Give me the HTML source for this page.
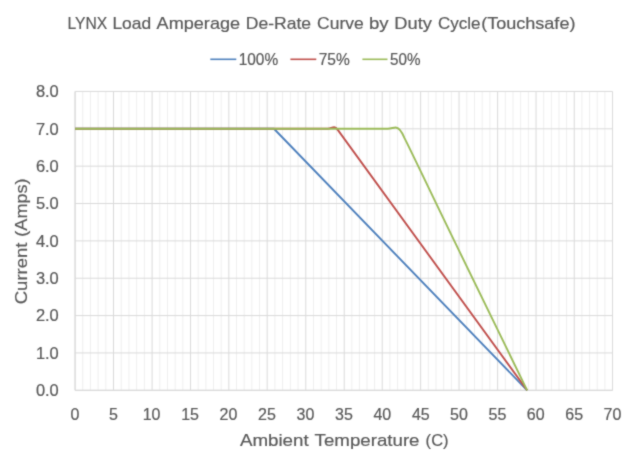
<!DOCTYPE html>
<html><head><meta charset="utf-8"><title>LYNX Load Amperage De-Rate Curve</title>
<style>html,body{margin:0;padding:0;background:#fff;}svg{display:block;will-change:transform;}text{font-family:"Liberation Sans",sans-serif;fill:#595959;stroke:#595959;stroke-width:0.2px;}</style></head><body>
<svg width="632" height="458" viewBox="0 0 632 458">
<defs><filter id="soft" x="0" y="0" width="632" height="458" filterUnits="userSpaceOnUse" color-interpolation-filters="sRGB"><feConvolveMatrix order="3" kernelMatrix="0.03 0.09 0.03 0.09 0.52 0.09 0.03 0.09 0.03" divisor="1" edgeMode="duplicate" preserveAlpha="true"/></filter></defs>
<g filter="url(#soft)">
<rect width="632" height="458" fill="#ffffff"/>
<path d="M82.74 91.45V390.30M90.43 91.45V390.30M98.12 91.45V390.30M105.81 91.45V390.30M121.22 91.45V390.30M128.94 91.45V390.30M136.65 91.45V390.30M144.37 91.45V390.30M159.78 91.45V390.30M167.47 91.45V390.30M175.16 91.45V390.30M182.85 91.45V390.30M198.20 91.45V390.30M205.86 91.45V390.30M213.52 91.45V390.30M221.18 91.45V390.30M236.50 91.45V390.30M244.17 91.45V390.30M251.84 91.45V390.30M259.51 91.45V390.30M274.90 91.45V390.30M282.62 91.45V390.30M290.34 91.45V390.30M298.06 91.45V390.30M313.47 91.45V390.30M321.16 91.45V390.30M328.85 91.45V390.30M336.54 91.45V390.30M351.82 91.45V390.30M359.42 91.45V390.30M367.02 91.45V390.30M374.62 91.45V390.30M389.90 91.45V390.30M397.58 91.45V390.30M405.26 91.45V390.30M412.94 91.45V390.30M428.31 91.45V390.30M436.00 91.45V390.30M443.69 91.45V390.30M451.38 91.45V390.30M466.77 91.45V390.30M474.48 91.45V390.30M482.19 91.45V390.30M489.90 91.45V390.30M505.30 91.45V390.30M512.99 91.45V390.30M520.68 91.45V390.30M528.37 91.45V390.30M543.70 91.45V390.30M551.34 91.45V390.30M558.97 91.45V390.30M566.61 91.45V390.30M581.91 91.45V390.30M589.57 91.45V390.30M597.23 91.45V390.30M604.89 91.45V390.30" stroke="#efefef" stroke-width="1" fill="none"/>
<path d="M75.05 91.45V390.30M113.50 91.45V390.30M152.09 91.45V390.30M190.54 91.45V390.30M228.84 91.45V390.30M267.18 91.45V390.30M305.78 91.45V390.30M344.23 91.45V390.30M382.22 91.45V390.30M420.62 91.45V390.30M459.06 91.45V390.30M497.61 91.45V390.30M536.06 91.45V390.30M574.25 91.45V390.30M612.55 91.45V390.30M75.10 390.30H612.60M75.10 352.94H612.60M75.10 315.59H612.60M75.10 278.23H612.60M75.10 240.88H612.60M75.10 203.52H612.60M75.10 166.16H612.60M75.10 128.81H612.60M75.10 91.45H612.60" stroke="#dadada" stroke-width="1" fill="none"/>
<path d="M75.10 91.45V390.30M75.10 390.30H612.60" stroke="#d9d9d9" stroke-width="1" fill="none"/>
<path d="M75.10 128.76L273.98 128.76L527.14 390.30" stroke="#4f81bd" stroke-width="1.9" fill="none" stroke-linejoin="round" stroke-linecap="butt"/>
<path d="M75.10 128.76L327.73 128.76C330.80 128.76 331.56 127.26 334.25 127.26C336.17 127.26 336.94 128.76 338.86 131.37L527.14 390.30" stroke="#c0504d" stroke-width="1.9" fill="none" stroke-linejoin="round" stroke-linecap="butt"/>
<path d="M75.10 128.76L387.62 128.76C391.46 128.76 392.99 127.45 395.68 127.45C399.14 127.45 401.44 130.62 404.51 138.10C412.19 153.04 428.70 188.54 459.18 250.93L527.14 390.30" stroke="#9bbb59" stroke-width="1.9" fill="none" stroke-linejoin="round" stroke-linecap="butt"/>
<path d="M210.3 59.3H236.3" stroke="#4f81bd" stroke-width="1.6"/>
<path d="M290.4 59.3H316.3" stroke="#c0504d" stroke-width="1.6"/>
<path d="M362.4 59.3H387.5" stroke="#9bbb59" stroke-width="1.6"/>
<g>
<text transform="translate(67.47 28.50) scale(0.9469 1)" font-size="16.6">LYNX</text>
<text transform="translate(112.44 28.50) scale(1.0490 1)" font-size="16.6">Load</text>
<text transform="translate(156.60 28.50) scale(1.0907 1)" font-size="16.6">Amperage</text>
<text transform="translate(245.73 28.50) scale(1.0578 1)" font-size="16.6">De-Rate</text>
<text transform="translate(317.08 28.50) scale(1.0530 1)" font-size="16.6">Curve</text>
<text transform="translate(368.94 28.50) scale(1.1216 1)" font-size="16.6">by</text>
<text transform="translate(394.37 28.50) scale(1.1025 1)" font-size="16.6">Duty</text>
<text transform="translate(438.00 28.50) scale(1.0260 1)" font-size="16.6">Cycle</text>
<text transform="translate(481.15 28.50) scale(1.0882 1)" font-size="16.6">(Touchsafe)</text>
<text transform="translate(238.63 64.80) scale(0.9844 1)" font-size="15.7">100%</text>
<text transform="translate(318.67 64.80) scale(0.9894 1)" font-size="15.7">75%</text>
<text transform="translate(389.92 64.80) scale(0.9716 1)" font-size="15.7">50%</text>
<text transform="translate(239.90 446.30) scale(1.0909 1)" font-size="17.2">Ambient</text>
<text transform="translate(314.61 446.30) scale(1.0869 1)" font-size="17.2">Temperature</text>
<text transform="translate(425.62 446.30) scale(0.9648 1)" font-size="17.2">(C)</text>
<text transform="translate(27.10 304.27) rotate(-90) scale(1.0776 1)" font-size="17.2">Current</text>
<text transform="translate(27.10 236.64) rotate(-90) scale(1.0479 1)" font-size="17.2">(Amps)</text>
<text transform="translate(70.60 419.90) scale(1.02 1)" font-size="15.7">0</text>
<text transform="translate(109.11 419.90) scale(1.02 1)" font-size="15.7">5</text>
<text transform="translate(142.68 419.90) scale(1.02 1)" font-size="15.7">10</text>
<text transform="translate(181.20 419.90) scale(1.02 1)" font-size="15.7">15</text>
<text transform="translate(219.59 419.90) scale(1.02 1)" font-size="15.7">20</text>
<text transform="translate(258.11 419.90) scale(1.02 1)" font-size="15.7">25</text>
<text transform="translate(296.50 419.90) scale(1.02 1)" font-size="15.7">30</text>
<text transform="translate(335.02 419.90) scale(1.02 1)" font-size="15.7">35</text>
<text transform="translate(373.41 419.90) scale(1.02 1)" font-size="15.7">40</text>
<text transform="translate(411.93 419.90) scale(1.02 1)" font-size="15.7">45</text>
<text transform="translate(450.07 419.90) scale(1.02 1)" font-size="15.7">50</text>
<text transform="translate(488.59 419.90) scale(1.02 1)" font-size="15.7">55</text>
<text transform="translate(526.73 419.90) scale(1.02 1)" font-size="15.7">60</text>
<text transform="translate(565.25 419.90) scale(1.02 1)" font-size="15.7">65</text>
<text transform="translate(603.52 419.90) scale(1.02 1)" font-size="15.7">70</text>
<text transform="translate(35.89 396.00) scale(1.05 1)" font-size="15.7">0.0</text>
<text transform="translate(35.89 358.64) scale(1.05 1)" font-size="15.7">1.0</text>
<text transform="translate(35.89 321.29) scale(1.05 1)" font-size="15.7">2.0</text>
<text transform="translate(35.89 283.93) scale(1.05 1)" font-size="15.7">3.0</text>
<text transform="translate(35.89 246.57) scale(1.05 1)" font-size="15.7">4.0</text>
<text transform="translate(35.89 209.22) scale(1.05 1)" font-size="15.7">5.0</text>
<text transform="translate(35.89 171.86) scale(1.05 1)" font-size="15.7">6.0</text>
<text transform="translate(35.89 134.51) scale(1.05 1)" font-size="15.7">7.0</text>
<text transform="translate(35.89 97.15) scale(1.05 1)" font-size="15.7">8.0</text>
</g>
</g>
</svg></body></html>
